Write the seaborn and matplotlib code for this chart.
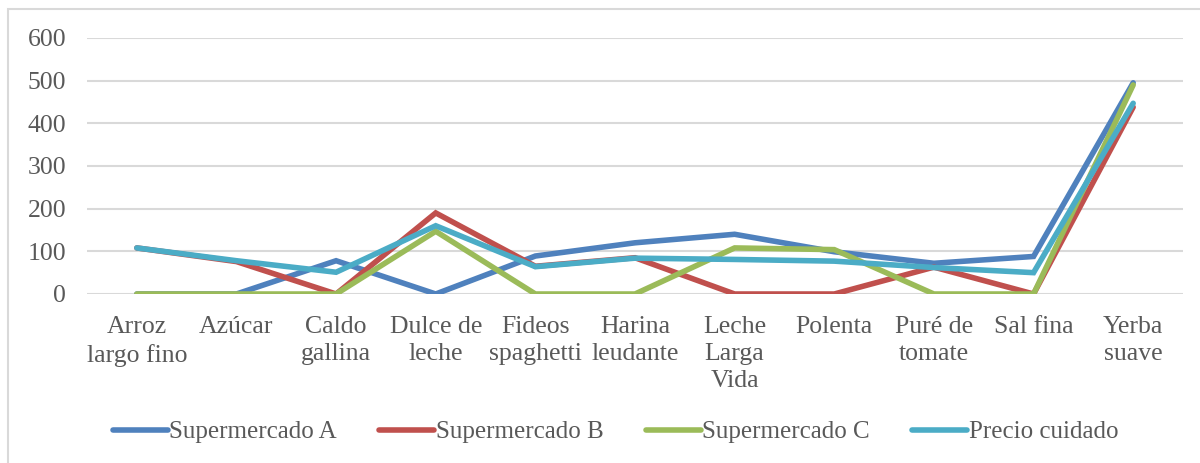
import matplotlib.pyplot as plt
import seaborn as sns
import pandas as pd
from matplotlib.patches import Rectangle

# Data
productos = ['Arroz\nlargo fino', 'Azúcar', 'Caldo\ngallina', 'Dulce de\nleche',
             'Fideos\nspaghetti', 'Harina\nleudante', 'Leche\nLarga\nVida',
             'Polenta', 'Puré de\ntomate', 'Sal fina', 'Yerba\nsuave']
super_a = [0, 0, 78, 0, 89, 120, 140, 99, 72, 88, 495]
super_b = [108, 76, 0, 190, 65, 85, 0, 0, 63, 0, 438]
super_c = [0, 0, 0, 147, 0, 0, 108, 104, 0, 0, 490]
precio_cuidado = [108, 78, 51, 160, 64, 84, 81, 77, 62, 50, 447]

series_names = ['Supermercado A', 'Supermercado B', 'Supermercado C', 'Precio cuidado']
colors = ['#4F81BD', '#C0504D', '#9BBB59', '#4BACC6']

df = pd.DataFrame({'Producto': productos, series_names[0]: super_a,
                   series_names[1]: super_b, series_names[2]: super_c,
                   series_names[3]: precio_cuidado})
long_df = df.melt(id_vars='Producto', var_name='Serie', value_name='Precio')
long_df['pos'] = long_df['Producto'].map({p: i for i, p in enumerate(productos)})

sns.set_style("white")
plt.rcParams['font.family'] = ['Liberation Serif', 'DejaVu Serif']

fig = plt.figure(figsize=(12, 4.63), dpi=100)
ax = fig.add_axes([87 / 1200, 1 - 294 / 463, (1183 - 87) / 1200, (294 - 38) / 463])

sns.lineplot(data=long_df, x='pos', y='Precio', hue='Serie', hue_order=series_names,
             palette=colors, linewidth=4, ax=ax, solid_capstyle='round',
             solid_joinstyle='miter', legend=False)

ax.set_xlim(-0.5, len(productos) - 0.5)
ax.set_ylim(0, 600)
ax.set_yticks(range(0, 601, 100))
ax.set_xticks(range(len(productos)))
ax.set_xticklabels(productos, linespacing=1.3)
ax.tick_params(axis='x', length=0, pad=16, labelsize=18.5, labelcolor='#595959')
ax.tick_params(axis='y', length=0, pad=15, labelsize=18.5, labelcolor='#595959')
ax.grid(axis='y', color='#d9d9d9', linewidth=1.5)
ax.set_axisbelow(True)
for s in ax.spines.values():
    s.set_visible(False)
ax.set_xlabel('')
ax.set_ylabel('')

handles = [plt.Line2D([0], [0], color=c, lw=4, solid_capstyle='round') for c in colors]
fig.legend(handles, series_names, loc='center', bbox_to_anchor=(0.513, 1 - 432 / 463),
           ncol=4, frameon=False, fontsize=18, handlelength=2.2, handletextpad=0.05,
           columnspacing=1.7, labelcolor='#595959')

# chart border
fig.patches.append(Rectangle((8 / 1200, -0.01), 1.2, 1 - 9 / 463 + 0.01,
                             transform=fig.transFigure, fill=False,
                             edgecolor='#d9d9d9', linewidth=1.5))

fig.savefig('out.png', dpi=100)
